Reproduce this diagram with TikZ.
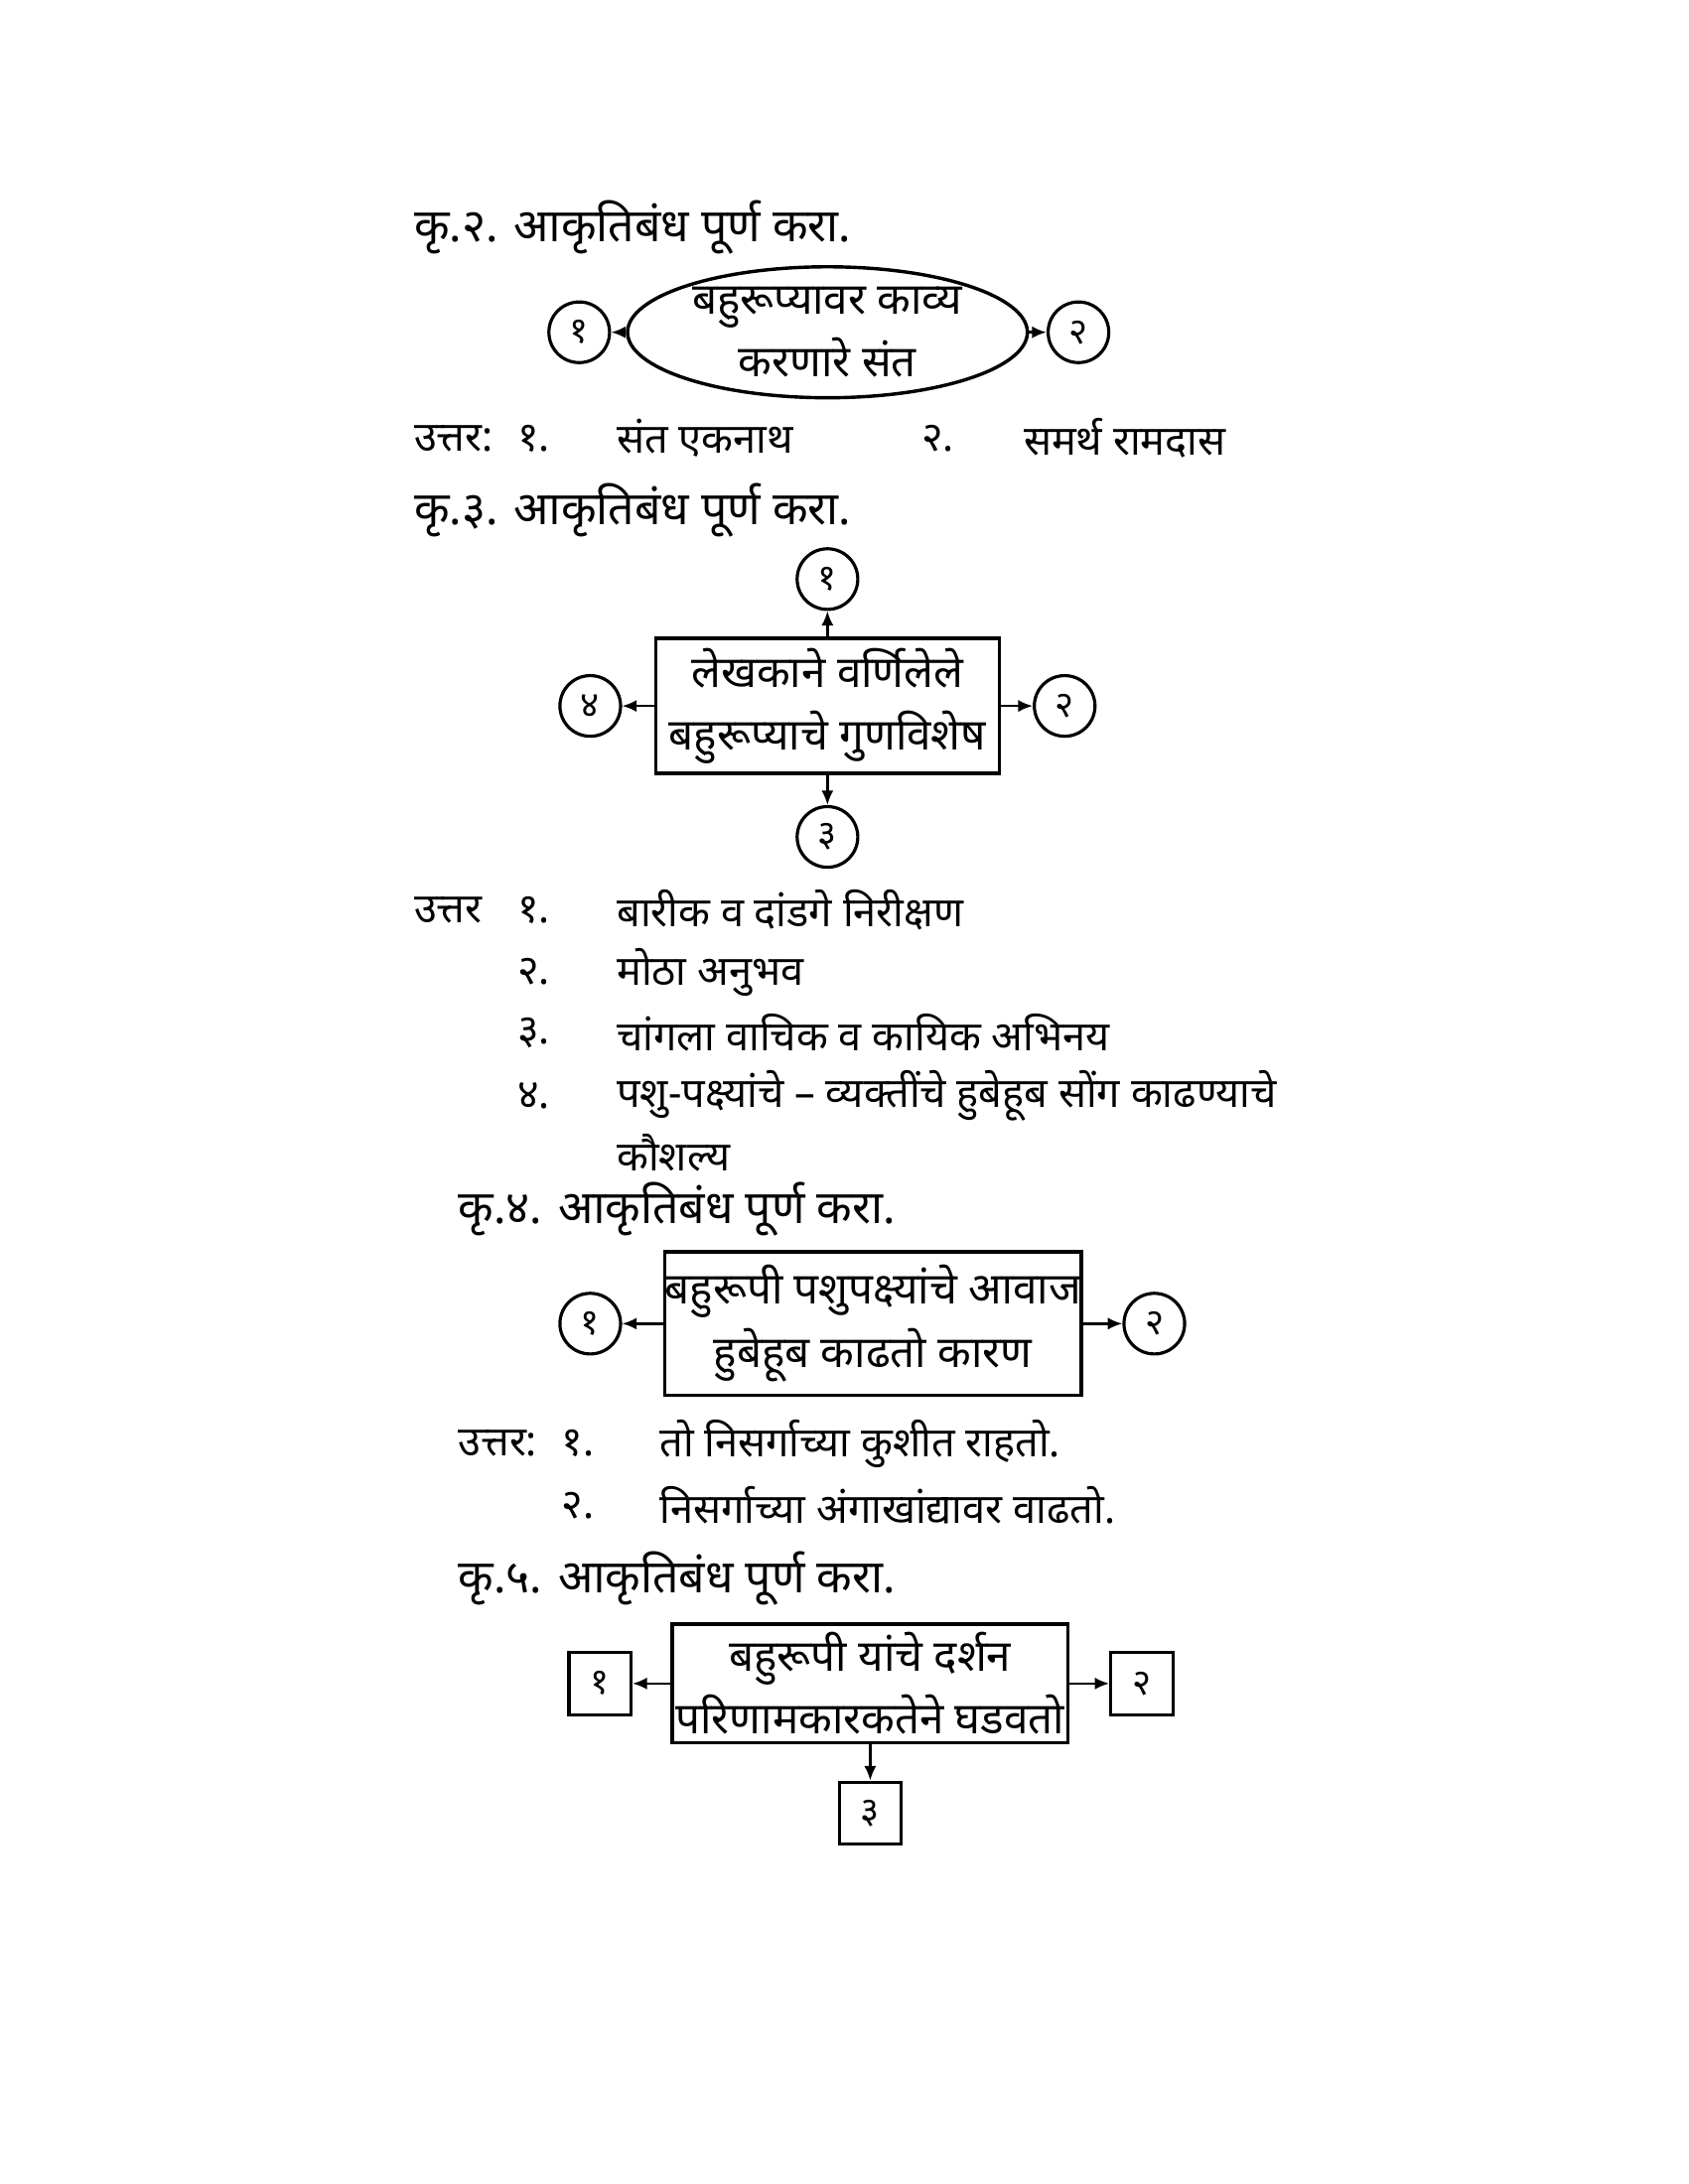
\documentclass[tikz,border=0pt]{standalone}
\usepackage{fontspec}
\setmainfont[Script=Devanagari]{Noto Sans}
\usetikzlibrary{shapes.geometric,arrows.meta}
\begin{document}
\begin{tikzpicture}[x=0.02cm,y=-0.02cm,
  hd/.style={anchor=west,font=\fontsize{19}{22}\selectfont\bfseries,inner sep=0},
  ans/.style={anchor=west,font=\fontsize{17}{20}\selectfont,inner sep=0},
  ansb/.style={anchor=west,font=\fontsize{17}{20}\selectfont\bfseries,inner sep=0},
  bx/.style={draw,line width=1.4pt,align=center,font=\fontsize{18}{26}\selectfont\bfseries,inner sep=0},
  cir/.style={draw,circle,line width=1.3pt,minimum size=44\pgflinewidth,inner sep=0,font=\fontsize{15}{15}\selectfont},
  sq/.style={draw,line width=1.3pt,minimum size=0.9cm,inner sep=0,font=\fontsize{15}{15}\selectfont},
  ar/.style={-{Latex[length=6pt,width=5pt]},line width=1pt}]
\useasboundingbox (0,0) rectangle (1224,1584);
\tikzset{cir/.append style={minimum size=0.88cm}}
% Q2
\node[hd] (h2) at (300,165) {कृ.२. आकृतिबंध पूर्ण करा.};
\node[bx,ellipse,minimum width=5.8cm,minimum height=1.9cm] (e) at (600,241) {बहुरूप्यावर काव्य\\करणारे संत};
\node[cir] (c21) at (420,241) {१};
\node[cir] (c22) at (782,241) {२};
\draw[ar] (e) -- (c21); \draw[ar] (e) -- (c22);
\node[ansb] (a2) at (300,318) {उत्तर:};
\node[ans] (a21) at (375,318) {१.};
\node[ans] (a21t) at (447,318) {संत एकनाथ};
\node[ans] (a22) at (668,318) {२.};
\node[ans] (a22t) at (742,318) {समर्थ रामदास};
% Q3
\node[hd] (h3) at (300,370) {कृ.३. आकृतिबंध पूर्ण करा.};
\node[bx,minimum width=4.98cm,minimum height=1.96cm] (b3) at (600,512) {लेखकाने वर्णिलेले\\बहुरूप्याचे गुणविशेष};
\node[cir] (c31) at (600,420) {१};
\node[cir] (c34) at (428,512) {४};
\node[cir] (c32) at (772,512) {२};
\node[cir] (c33) at (600,607) {३};
\foreach \c in {c31,c32,c33,c34} \draw[ar] (b3) -- (\c);
\node[ansb] (a3) at (300,660) {उत्तर};
\node[ans] (a31) at (375,660) {१.}; \node[ans] (a31t) at (447,660) {बारीक व दांडगे निरीक्षण};
\node[ans] (a32) at (375,705) {२.}; \node[ans] (a32t) at (447,705) {मोठा अनुभव};
\node[ans] (a33) at (375,749) {३.}; \node[ans] (a33t) at (447,749) {चांगला वाचिक व कायिक अभिनय};
\node[ans] (a34) at (375,795) {४.}; \node[ans] (a34t) at (447,795) {पशु-पक्ष्यांचे – व्यक्तींचे हुबेहूब सोंग काढण्याचे};
\node[ans] (a34u) at (447,836) {कौशल्य};
% Q4
\node[hd] (h4) at (332,877) {कृ.४. आकृतिबंध पूर्ण करा.};
\node[bx,minimum width=6.04cm,minimum height=2.08cm] (b4) at (633,960) {बहुरूपी पशुपक्ष्यांचे आवाज\\हुबेहूब काढतो कारण};
\node[cir] (c41) at (428,960) {१};
\node[cir] (c42) at (837,960) {२};
\draw[ar] (b4) -- (c41); \draw[ar] (b4) -- (c42);
\node[ansb] (a4) at (332,1047) {उत्तर:};
\node[ans] (a41) at (407,1047) {१.}; \node[ans] (a41t) at (478,1047) {तो निसर्गाच्या कुशीत राहतो.};
\node[ans] (a42) at (407,1092) {२.}; \node[ans] (a42t) at (478,1092) {निसर्गाच्या अंगाखांद्यावर वाढतो.};
% Q5
\node[hd] (h5) at (332,1145) {कृ.५. आकृतिबंध पूर्ण करा.};
\node[bx,minimum width=5.74cm,minimum height=1.72cm] (b5) at (631,1221) {बहुरूपी यांचे दर्शन\\परिणामकारकतेने घडवतो};
\node[sq] (s1) at (435,1221) {१};
\node[sq] (s2) at (828,1221) {२};
\node[sq] (s3) at (631,1315) {३};
\draw[ar] (b5) -- (s1); \draw[ar] (b5) -- (s2); \draw[ar] (b5) -- (s3);
\end{tikzpicture}
\end{document}
